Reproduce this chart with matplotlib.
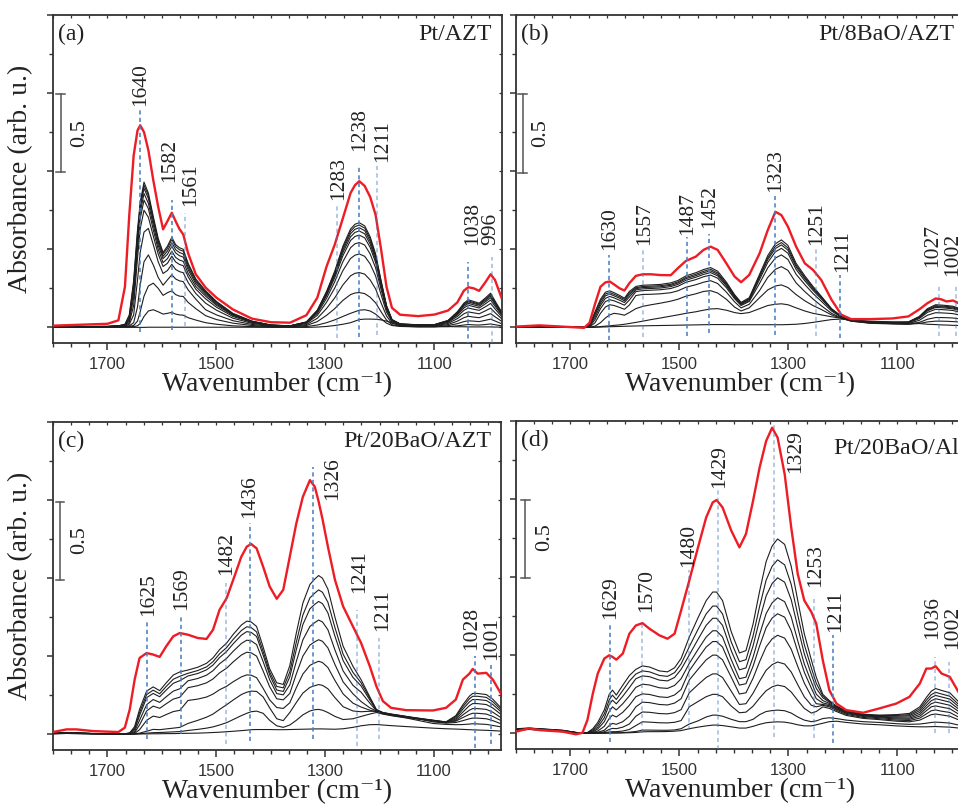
import matplotlib
matplotlib.use('Agg')
import matplotlib.pyplot as plt
from matplotlib.ticker import MultipleLocator, FixedLocator

plt.rcParams['font.family'] = ['Liberation Serif', 'DejaVu Serif']
plt.rcParams['mathtext.fontset'] = 'stix'

# ---------------- panel (a) Pt/AZT ----------------
wn_a = [1800, 1700, 1680, 1668, 1660, 1652, 1645, 1640, 1633, 1625, 1616, 1607, 1598, 1590, 1582,
        1575, 1568, 1561, 1552, 1538, 1520, 1500, 1470, 1435, 1400, 1365, 1335, 1315, 1298, 1283,
        1268, 1254, 1246, 1238, 1228, 1218, 1208, 1198, 1188, 1178, 1163, 1130, 1100, 1075, 1058,
        1046, 1038, 1028, 1018, 1007, 997, 989, 977]
red_a = [0.011, 0.023, 0.045, 0.26, 0.72, 1.10, 1.26, 1.294, 1.25, 1.134, 0.943, 0.772, 0.628, 0.68, 0.734,
         0.68, 0.63, 0.595, 0.474, 0.34, 0.255, 0.19, 0.115, 0.056, 0.033, 0.030, 0.078, 0.19, 0.39, 0.53,
         0.70, 0.86, 0.91, 0.936, 0.905, 0.835, 0.72, 0.50, 0.26, 0.125, 0.081, 0.072, 0.082, 0.108, 0.16,
         0.235, 0.257, 0.25, 0.234, 0.287, 0.34, 0.304, 0.19]
black_a = [
    [0.005, 0.006, 0.010,
     0.02, 0.08, 0.30, 0.62, 0.80, 0.93, 0.86, 0.71, 0.57, 0.48,
     0.52, 0.577, 0.53, 0.51, 0.50, 0.41, 0.31,
     0.235, 0.166, 0.09, 0.04, 0.015, 0.01,
     0.035, 0.11, 0.23, 0.36, 0.52, 0.63, 0.66, 0.67, 0.65, 0.58, 0.47, 0.30, 0.14, 0.05, 0.022,
     0.017, 0.018, 0.045, 0.10, 0.155, 0.177, 0.166, 0.155, 0.187, 0.219, 0.17, 0.10],
    [0.005, 0.006, 0.01,
     0.018, 0.07, 0.28, 0.60, 0.785, 0.91, 0.845, 0.695, 0.558, 0.47,
     0.507, 0.563, 0.517, 0.497, 0.488, 0.40, 0.302,
     0.228, 0.161, 0.087, 0.039, 0.015, 0.01,
     0.034, 0.108, 0.225, 0.352, 0.509, 0.616, 0.645, 0.655, 0.636, 0.567, 0.46, 0.293, 0.137, 0.049, 0.022,
     0.016, 0.017, 0.043, 0.096, 0.149, 0.17, 0.159, 0.149, 0.18, 0.21, 0.163, 0.096],
    [0.005, 0.006, 0.009,
     0.016, 0.06, 0.26, 0.575, 0.765, 0.89, 0.825, 0.68, 0.545, 0.455,
     0.489, 0.542, 0.498, 0.479, 0.47, 0.385, 0.291,
     0.221, 0.156, 0.085, 0.038, 0.014, 0.009,
     0.033, 0.105, 0.219, 0.343, 0.495, 0.60, 0.628, 0.638, 0.619, 0.552, 0.447, 0.286, 0.133, 0.048, 0.021,
     0.016, 0.017, 0.041, 0.092, 0.143, 0.163, 0.153, 0.143, 0.172, 0.201, 0.156, 0.092],
    [0.005, 0.006, 0.009,
     0.014, 0.05, 0.23, 0.54, 0.735, 0.857, 0.795, 0.655, 0.525, 0.44,
     0.468, 0.519, 0.477, 0.459, 0.45, 0.369, 0.279,
     0.212, 0.149, 0.081, 0.036, 0.014, 0.009,
     0.032, 0.101, 0.212, 0.332, 0.479, 0.58, 0.608, 0.617, 0.599, 0.534, 0.433, 0.276, 0.129, 0.046, 0.02,
     0.015, 0.016, 0.039, 0.087, 0.135, 0.154, 0.144, 0.135, 0.163, 0.19, 0.148, 0.087],
    [0.004, 0.005, 0.008,
     0.012, 0.04, 0.19, 0.50, 0.695, 0.815, 0.76, 0.625, 0.50, 0.415,
     0.44, 0.488, 0.448, 0.431, 0.423, 0.346, 0.262,
     0.20, 0.141, 0.077, 0.034, 0.013, 0.009,
     0.031, 0.097, 0.203, 0.318, 0.459, 0.556, 0.582, 0.591, 0.573, 0.512, 0.415, 0.265, 0.123, 0.044, 0.019,
     0.014, 0.014, 0.036, 0.08, 0.124, 0.142, 0.133, 0.124, 0.15, 0.175, 0.136, 0.08],
    [0.004, 0.005, 0.007,
     0.01, 0.03, 0.14, 0.44, 0.63, 0.75, 0.705, 0.585, 0.47, 0.39,
     0.41, 0.456, 0.419, 0.403, 0.395, 0.324, 0.245,
     0.183, 0.129, 0.07, 0.031, 0.012, 0.008,
     0.028, 0.089, 0.186, 0.292, 0.421, 0.51, 0.535, 0.543, 0.527, 0.47, 0.381, 0.243, 0.113, 0.041, 0.018,
     0.012, 0.013, 0.032, 0.07, 0.109, 0.124, 0.116, 0.109, 0.131, 0.153, 0.119, 0.07],
    [0.003, 0.004, 0.006,
     0.008, 0.02, 0.08, 0.30, 0.48, 0.61, 0.634, 0.53, 0.42, 0.345,
     0.364, 0.404, 0.371, 0.357, 0.35, 0.287, 0.217,
     0.155, 0.11, 0.059, 0.026, 0.01, 0.007,
     0.025, 0.077, 0.161, 0.252, 0.364, 0.441, 0.462, 0.47, 0.455, 0.406, 0.329, 0.21, 0.098, 0.035, 0.015,
     0.01, 0.01, 0.025, 0.056, 0.087, 0.099, 0.093, 0.087, 0.105, 0.123, 0.095, 0.056],
    [0.003, 0.004, 0.005,
     0.006, 0.01, 0.03, 0.13, 0.27, 0.42, 0.464, 0.40, 0.32, 0.27,
     0.304, 0.337, 0.31, 0.298, 0.293, 0.24, 0.181,
     0.113, 0.08, 0.043, 0.019, 0.007, 0.005,
     0.018, 0.058, 0.121, 0.189, 0.272, 0.33, 0.346, 0.351, 0.341, 0.304, 0.246, 0.157, 0.073, 0.026, 0.012,
     0.007, 0.007, 0.018, 0.04, 0.062, 0.071, 0.066, 0.062, 0.075, 0.088, 0.068, 0.04],
    [0.002, 0.003, 0.004,
     0.005, 0.007, 0.012, 0.04, 0.10, 0.20, 0.265, 0.283, 0.25, 0.205,
     0.222, 0.234, 0.21, 0.2, 0.198, 0.16, 0.12,
     0.075, 0.05, 0.027, 0.012, 0.005, 0.004,
     0.012, 0.037, 0.077, 0.12, 0.173, 0.21, 0.22, 0.223, 0.216, 0.193, 0.157, 0.10, 0.047, 0.017, 0.008,
     0.004, 0.004, 0.011, 0.024, 0.037, 0.042, 0.04, 0.037, 0.045, 0.053, 0.041, 0.024],
    [0.002, 0.002, 0.003,
     0.003, 0.004, 0.005, 0.01, 0.025, 0.07, 0.105, 0.113, 0.10, 0.085,
     0.09, 0.096, 0.085, 0.08, 0.078, 0.062, 0.047,
     0.03, 0.02, 0.01, 0.005, 0.003, 0.003,
     0.005, 0.015, 0.03, 0.048, 0.07, 0.09, 0.10, 0.11, 0.113, 0.105, 0.085, 0.055, 0.027, 0.012, 0.006,
     0.003, 0.003, 0.005, 0.01, 0.015, 0.018, 0.016, 0.015, 0.018, 0.022, 0.017, 0.01],
    [0.0, 0.0, 0.0,
     0.0, 0.0, 0.0, 0.0, 0.0, 0.0, 0.001, 0.001, 0.001, 0.001,
     0.001, 0.001, 0.001, 0.001, 0.001, 0.001, 0.001,
     0.001, 0.001, 0.001, 0.001, 0.0, 0.0,
     0.0, 0.002, 0.006, 0.012, 0.02, 0.03, 0.04, 0.05, 0.053, 0.053, 0.052, 0.048, 0.04, 0.03, 0.02,
     0.012, 0.007, 0.005, 0.004, 0.004, 0.003, 0.003, 0.003, 0.003, 0.003, 0.002, 0.002],
]

# ---------------- panel (b) Pt/8BaO/AZT ----------------
wn_b = [1800, 1757, 1700, 1675, 1665, 1655, 1645, 1636, 1628, 1620, 1610, 1601, 1592, 1580, 1567,
        1552, 1535, 1516, 1503, 1488, 1470, 1456, 1443, 1430, 1414, 1399, 1387, 1372, 1353, 1338,
        1324, 1313, 1301, 1286, 1270, 1255, 1240, 1221, 1203, 1185, 1150, 1110, 1080, 1060, 1045,
        1030, 1020, 1010, 998, 985, 977]
red_b = [0.005, 0.013, 0.002, -0.003, 0.03, 0.15, 0.26, 0.288, 0.294, 0.275, 0.25, 0.236, 0.283, 0.33, 0.34,
         0.34, 0.335, 0.334, 0.379, 0.426, 0.453, 0.496, 0.517, 0.496, 0.41, 0.326, 0.289, 0.336, 0.474, 0.623,
         0.74, 0.719, 0.645, 0.517, 0.41, 0.368, 0.304, 0.177, 0.081, 0.053, 0.053, 0.057, 0.07, 0.115, 0.155,
         0.185, 0.18, 0.166, 0.172, 0.15, 0.13]
black_b = [
    [0.003, 0.003, 0.002, 0.0, 0.017, 0.10, 0.18, 0.225, 0.234, 0.222, 0.205, 0.187, 0.23,
     0.262, 0.27, 0.272, 0.275, 0.285, 0.30, 0.33, 0.35, 0.37, 0.383, 0.36, 0.29, 0.21, 0.16, 0.19,
     0.34, 0.46, 0.535, 0.56, 0.525, 0.41, 0.33, 0.262, 0.20,
     0.12, 0.07, 0.045, 0.036,
     0.033, 0.035, 0.07, 0.12, 0.145, 0.143, 0.14, 0.135, 0.12, 0.11],
    [0.003, 0.003, 0.002, 0.0, 0.015, 0.09, 0.168, 0.214, 0.223, 0.212, 0.196, 0.179, 0.22,
     0.254, 0.262, 0.264, 0.267, 0.276, 0.291, 0.32, 0.34, 0.359, 0.372, 0.349, 0.281, 0.204, 0.155, 0.184,
     0.33, 0.446, 0.519, 0.543, 0.509, 0.398, 0.32, 0.254, 0.195,
     0.118, 0.07, 0.045, 0.035,
     0.032, 0.034, 0.067, 0.115, 0.139, 0.137, 0.134, 0.13, 0.115, 0.106],
    [0.003, 0.003, 0.002, 0.0, 0.013, 0.08, 0.155, 0.202, 0.213, 0.202, 0.187, 0.17, 0.209,
     0.248, 0.255, 0.257, 0.26, 0.269, 0.284, 0.312, 0.331, 0.35, 0.362, 0.34, 0.274, 0.198, 0.151, 0.179,
     0.321, 0.434, 0.505, 0.528, 0.495, 0.387, 0.311, 0.247, 0.19,
     0.116, 0.069, 0.045, 0.034,
     0.031, 0.033, 0.064, 0.11, 0.133, 0.132, 0.129, 0.124, 0.11, 0.101],
    [0.003, 0.003, 0.002, 0.0, 0.01, 0.065, 0.14, 0.186, 0.198, 0.189, 0.174, 0.159, 0.195,
     0.24, 0.247, 0.249, 0.252, 0.261, 0.275, 0.302, 0.321, 0.339, 0.351, 0.33, 0.266, 0.192, 0.146, 0.172,
     0.307, 0.416, 0.484, 0.506, 0.475, 0.371, 0.298, 0.237, 0.183,
     0.113, 0.068, 0.044, 0.033,
     0.03, 0.031, 0.062, 0.106, 0.128, 0.126, 0.123, 0.119, 0.106, 0.097],
    [0.003, 0.003, 0.002, 0.0, 0.006, 0.05, 0.12, 0.165, 0.177, 0.17, 0.156, 0.142, 0.175,
     0.229, 0.236, 0.238, 0.241, 0.249, 0.263, 0.289, 0.306, 0.324, 0.335, 0.315, 0.254, 0.184, 0.14, 0.166,
     0.282, 0.381, 0.444, 0.464, 0.435, 0.34, 0.274, 0.217, 0.168,
     0.105, 0.065, 0.043, 0.031,
     0.028, 0.029, 0.056, 0.096, 0.116, 0.114, 0.112, 0.108, 0.096, 0.088],
    [0.002, 0.002, 0.002, 0.0, 0.003, 0.03, 0.09, 0.13, 0.145, 0.14, 0.128, 0.116, 0.143,
     0.204, 0.211, 0.212, 0.215, 0.222, 0.234, 0.257, 0.273, 0.289, 0.299, 0.281, 0.226, 0.164, 0.125, 0.148,
     0.236, 0.32, 0.372, 0.389, 0.365, 0.285, 0.229, 0.182, 0.139,
     0.09, 0.06, 0.04, 0.028,
     0.025, 0.025, 0.045, 0.078, 0.094, 0.093, 0.091, 0.088, 0.078, 0.072],
    [0.002, 0.002, 0.002, 0.0, 0.001, 0.008, 0.03, 0.06, 0.08, 0.09, 0.085, 0.078, 0.095,
     0.12, 0.135, 0.145, 0.155, 0.168, 0.18, 0.20, 0.215, 0.23, 0.235, 0.22, 0.18, 0.13, 0.105, 0.125,
     0.19, 0.24, 0.265, 0.272, 0.255, 0.21, 0.17, 0.14, 0.115,
     0.08, 0.058, 0.04, 0.026,
     0.022, 0.02, 0.032, 0.052, 0.063, 0.063, 0.062, 0.06, 0.054, 0.05],
    [0.002, 0.002, 0.002, 0.0, 0.0, 0.002, 0.005, 0.008, 0.01, 0.013, 0.016, 0.02, 0.025,
     0.032, 0.04, 0.05, 0.06, 0.072, 0.08, 0.09, 0.10, 0.11, 0.118, 0.12, 0.11, 0.095, 0.088, 0.095,
     0.12, 0.14, 0.148, 0.151, 0.145, 0.125, 0.105, 0.09, 0.08,
     0.068, 0.058, 0.045, 0.03,
     0.024, 0.02, 0.025, 0.035, 0.04, 0.04, 0.039, 0.037, 0.034, 0.031],
    [0.002, 0.002, 0.001, 0.0, 0.0, 0.001, 0.002, 0.003, 0.004, 0.005, 0.006, 0.007, 0.008,
     0.009, 0.01, 0.011, 0.012, 0.013, 0.014, 0.015, 0.016, 0.017, 0.018, 0.018, 0.018, 0.017, 0.017, 0.017,
     0.017, 0.017, 0.017, 0.017, 0.018, 0.02, 0.025, 0.032, 0.04,
     0.05, 0.053, 0.048, 0.04,
     0.035, 0.03, 0.025, 0.02, 0.018, 0.016, 0.015, 0.013, 0.012, 0.011],
]

# ---------------- panel (c) Pt/20BaO/AZT ----------------
wn_c = [1800, 1775, 1757, 1726, 1680, 1668, 1659, 1650, 1641, 1628, 1616, 1604, 1592, 1579, 1567,
        1552, 1534, 1518, 1506, 1494, 1481, 1469, 1454, 1444, 1436, 1426, 1414, 1402, 1389, 1377,
        1365, 1353, 1341, 1328, 1319, 1312, 1305, 1295, 1282, 1267, 1249, 1234, 1218, 1206, 1194,
        1179, 1151, 1102, 1078, 1060, 1047, 1035, 1029, 1020, 1004, 992, 977]
red_c = [0.015, 0.032, 0.032, 0.021, 0.015, 0.043, 0.16, 0.351, 0.489, 0.521, 0.511, 0.496, 0.564, 0.628, 0.649,
         0.638, 0.617, 0.611, 0.67, 0.798, 0.872, 0.989, 1.138, 1.202, 1.219, 1.191, 1.074, 0.947, 0.868, 0.926,
         1.138, 1.351, 1.521, 1.628, 1.585, 1.49, 1.38, 1.202, 0.989, 0.819, 0.691, 0.585, 0.436, 0.309, 0.213,
         0.170, 0.155, 0.153, 0.170, 0.223, 0.351, 0.389, 0.419, 0.389, 0.394, 0.351, 0.26]
black_c = [
    [0.008, 0.012, 0.01, 0.006, 0.003,
     0.004, 0.01, 0.05, 0.16, 0.277, 0.304, 0.28, 0.33, 0.38, 0.40,
     0.412, 0.43, 0.455, 0.49, 0.543, 0.585, 0.64, 0.70, 0.725, 0.72, 0.691, 0.56, 0.42, 0.33, 0.32,
     0.44, 0.649, 0.84, 0.96, 0.995, 1.017, 1.0, 0.93, 0.75, 0.564, 0.436,
     0.35, 0.24, 0.16, 0.14, 0.13, 0.115,
     0.091, 0.08, 0.12, 0.19, 0.245, 0.262, 0.262, 0.255, 0.225, 0.17],
    [0.007, 0.011, 0.009, 0.005, 0.003,
     0.004, 0.008, 0.04, 0.14, 0.255, 0.283, 0.26, 0.307, 0.353, 0.372,
     0.391, 0.409, 0.432, 0.466, 0.516, 0.556, 0.608, 0.665, 0.689, 0.684, 0.656, 0.532, 0.399, 0.307, 0.298,
     0.40, 0.591, 0.764, 0.874, 0.905, 0.925, 0.91, 0.846, 0.683, 0.513, 0.397,
     0.33, 0.232, 0.157, 0.138, 0.128, 0.113,
     0.09, 0.079, 0.114, 0.177, 0.228, 0.244, 0.244, 0.237, 0.209, 0.158],
    [0.007, 0.01, 0.009, 0.005, 0.003,
     0.004, 0.007, 0.032, 0.12, 0.235, 0.262, 0.241, 0.284, 0.327, 0.344,
     0.374, 0.39, 0.413, 0.444, 0.492, 0.531, 0.58, 0.635, 0.658, 0.653, 0.627, 0.508, 0.381, 0.284, 0.275,
     0.368, 0.543, 0.703, 0.804, 0.833, 0.851, 0.837, 0.778, 0.628, 0.472, 0.365,
     0.31, 0.22, 0.155, 0.136, 0.126, 0.11,
     0.089, 0.078, 0.106, 0.162, 0.208, 0.223, 0.223, 0.217, 0.191, 0.145],
    [0.006, 0.01, 0.008, 0.005, 0.003,
     0.003, 0.005, 0.02, 0.09, 0.19, 0.223, 0.205, 0.241, 0.277, 0.292,
     0.343, 0.358, 0.379, 0.408, 0.452, 0.487, 0.532, 0.582, 0.603, 0.599, 0.575, 0.466, 0.35, 0.261, 0.253,
     0.317, 0.467, 0.605, 0.691, 0.716, 0.732, 0.72, 0.67, 0.54, 0.406, 0.314,
     0.27, 0.2, 0.152, 0.132, 0.122, 0.107,
     0.088, 0.077, 0.098, 0.143, 0.184, 0.197, 0.197, 0.191, 0.169, 0.128],
    [0.006, 0.009, 0.008, 0.005, 0.003,
     0.003, 0.004, 0.012, 0.06, 0.15, 0.181, 0.167, 0.196, 0.226, 0.238,
     0.299, 0.312, 0.33, 0.355, 0.394, 0.424, 0.464, 0.508, 0.526, 0.522, 0.501, 0.406, 0.305, 0.228, 0.221,
     0.262, 0.387, 0.501, 0.572, 0.593, 0.606, 0.596, 0.554, 0.447, 0.336, 0.26,
     0.21, 0.17, 0.15, 0.135, 0.125, 0.11,
     0.087, 0.076, 0.09, 0.125, 0.155, 0.165, 0.165, 0.16, 0.142, 0.107],
    [0.005, 0.008, 0.007, 0.004, 0.003,
     0.002, 0.003, 0.006, 0.03, 0.09, 0.117, 0.108, 0.127, 0.146, 0.154,
     0.217, 0.226, 0.239, 0.258, 0.286, 0.308, 0.337, 0.368, 0.381, 0.379, 0.363, 0.295, 0.221, 0.172, 0.166,
     0.202, 0.299, 0.386, 0.442, 0.458, 0.468, 0.46, 0.428, 0.345, 0.259, 0.2,
     0.175, 0.155, 0.145, 0.135, 0.125, 0.11,
     0.086, 0.075, 0.085, 0.108, 0.128, 0.135, 0.135, 0.13, 0.115, 0.088],
    [0.005, 0.007, 0.006, 0.004, 0.003,
     0.002, 0.002, 0.003, 0.008, 0.02, 0.032, 0.03, 0.035, 0.04, 0.045,
     0.07, 0.09, 0.11, 0.13, 0.16, 0.19, 0.22, 0.255, 0.27, 0.277, 0.275, 0.24, 0.17, 0.10, 0.088,
     0.14, 0.204, 0.264, 0.301, 0.312, 0.319, 0.314, 0.292, 0.235, 0.177, 0.15,
     0.145, 0.148, 0.148, 0.14, 0.13, 0.115,
     0.08, 0.072, 0.076, 0.088, 0.1, 0.104, 0.104, 0.1, 0.088, 0.068],
    [0.004, 0.006, 0.005, 0.004, 0.003,
     0.002, 0.002, 0.002, 0.004, 0.008, 0.011, 0.012, 0.014, 0.016, 0.018,
     0.025, 0.032, 0.04, 0.048, 0.06, 0.075, 0.095, 0.12, 0.135, 0.145, 0.149, 0.135, 0.09, 0.055, 0.045,
     0.06, 0.09, 0.125, 0.15, 0.158, 0.16, 0.155, 0.14, 0.115, 0.095, 0.1,
     0.115, 0.13, 0.14, 0.13, 0.12, 0.105,
     0.07, 0.064, 0.062, 0.063, 0.066, 0.068, 0.067, 0.064, 0.057, 0.048],
    [0.004, 0.006, 0.005, 0.003, 0.002,
     0.002, 0.002, 0.002, 0.003, 0.003, 0.004, 0.004, 0.005, 0.005, 0.006,
     0.007, 0.008, 0.01, 0.012, 0.014, 0.017, 0.02, 0.024, 0.027, 0.03, 0.031, 0.031, 0.031, 0.03, 0.03,
     0.031, 0.032, 0.033, 0.034, 0.035, 0.035, 0.035, 0.034, 0.033, 0.036, 0.045,
     0.055, 0.062, 0.063, 0.06, 0.056, 0.05,
     0.04, 0.036, 0.034, 0.032, 0.03, 0.029, 0.028, 0.026, 0.024, 0.021],
]

# ---------------- panel (d) Pt/20BaO/Al2O3 ----------------
wn_d = [1800, 1776, 1757, 1714, 1690, 1678, 1669, 1659, 1650, 1638, 1629, 1623, 1616, 1604, 1592,
        1580, 1568, 1555, 1537, 1522, 1509, 1497, 1482, 1466, 1451, 1439, 1432, 1421, 1405, 1390,
        1378, 1365, 1353, 1341, 1330, 1320, 1307, 1295, 1283, 1271, 1258, 1249, 1237, 1225, 1212,
        1194, 1163, 1133, 1102, 1078, 1059, 1047, 1038, 1030, 1019, 1004, 990, 977]
red_d = [0.011, 0.032, 0.021, 0.011, -0.006, 0.004, 0.085, 0.255, 0.383, 0.479, 0.5, 0.49, 0.472, 0.511, 0.638,
         0.691, 0.706, 0.670, 0.628, 0.606, 0.638, 0.787, 0.979, 1.191, 1.383, 1.479, 1.494, 1.447, 1.298, 1.191,
         1.277, 1.489, 1.702, 1.872, 1.957, 1.894, 1.66, 1.319, 1.021, 0.851, 0.777, 0.702, 0.468, 0.277, 0.191,
         0.149, 0.132, 0.16, 0.191, 0.234, 0.319, 0.415, 0.415, 0.430, 0.383, 0.362, 0.277, 0.2]
black_d = [
    [0.03, 0.034, 0.03, 0.02, 0.006, 0.002,
     0.005, 0.03, 0.07, 0.15, 0.25, 0.277, 0.245, 0.309, 0.37,
     0.41, 0.432, 0.425, 0.40, 0.394, 0.42, 0.48,
     0.617, 0.74, 0.85, 0.905, 0.905, 0.85, 0.65, 0.515, 0.53,
     0.70, 0.91, 1.10, 1.20, 1.245, 1.21, 1.07, 0.851, 0.638, 0.47, 0.36,
     0.25, 0.21, 0.175, 0.145, 0.122, 0.117,
     0.12, 0.128, 0.17, 0.23, 0.27, 0.287, 0.275, 0.26, 0.21, 0.16],
    [0.029, 0.033, 0.029, 0.019, 0.006, 0.002,
     0.004, 0.022, 0.055, 0.125, 0.215, 0.245, 0.217, 0.275, 0.335,
     0.38, 0.40, 0.394, 0.371, 0.365, 0.389, 0.445,
     0.555, 0.666, 0.765, 0.815, 0.815, 0.765, 0.585, 0.459, 0.472,
     0.624, 0.812, 0.981, 1.07, 1.111, 1.079, 0.954, 0.759, 0.569, 0.419, 0.321,
     0.24, 0.205, 0.172, 0.143, 0.12, 0.114,
     0.115, 0.12, 0.158, 0.212, 0.248, 0.263, 0.252, 0.238, 0.193, 0.147],
    [0.028, 0.032, 0.028, 0.018, 0.005, 0.002,
     0.003, 0.015, 0.04, 0.1, 0.185, 0.213, 0.189, 0.238, 0.293,
     0.35, 0.368, 0.363, 0.341, 0.336, 0.358, 0.41,
     0.502, 0.602, 0.692, 0.737, 0.737, 0.692, 0.529, 0.407, 0.419,
     0.56, 0.728, 0.88, 0.96, 0.996, 0.968, 0.856, 0.681, 0.51, 0.376, 0.288,
     0.228, 0.2, 0.17, 0.14, 0.118, 0.112,
     0.11, 0.113, 0.146, 0.195, 0.229, 0.243, 0.233, 0.22, 0.178, 0.136],
    [0.027, 0.031, 0.027, 0.017, 0.005, 0.002,
     0.002, 0.01, 0.028, 0.075, 0.14, 0.17, 0.15, 0.19, 0.24,
     0.295, 0.315, 0.31, 0.292, 0.288, 0.307, 0.35,
     0.448, 0.537, 0.617, 0.657, 0.657, 0.617, 0.472, 0.35, 0.36,
     0.488, 0.634, 0.767, 0.836, 0.868, 0.843, 0.746, 0.593, 0.445, 0.328, 0.251,
     0.21, 0.192, 0.165, 0.137, 0.115, 0.108,
     0.104, 0.105, 0.134, 0.178, 0.209, 0.222, 0.213, 0.2, 0.162, 0.124],
    [0.026, 0.03, 0.026, 0.016, 0.005, 0.002,
     0.002, 0.006, 0.015, 0.045, 0.095, 0.117, 0.105, 0.135, 0.18,
     0.235, 0.253, 0.249, 0.234, 0.23, 0.246, 0.281,
     0.401, 0.481, 0.553, 0.588, 0.588, 0.553, 0.423, 0.309, 0.318,
     0.43, 0.56, 0.677, 0.738, 0.766, 0.744, 0.658, 0.523, 0.392, 0.289, 0.222,
     0.195, 0.185, 0.16, 0.133, 0.112, 0.105,
     0.098, 0.097, 0.122, 0.162, 0.19, 0.2, 0.192, 0.18, 0.146, 0.112],
    [0.025, 0.029, 0.025, 0.015, 0.004, 0.002,
     0.002, 0.003, 0.007, 0.02, 0.05, 0.064, 0.058, 0.075, 0.11,
     0.17, 0.2, 0.197, 0.185, 0.182, 0.194, 0.222,
     0.342, 0.41, 0.471, 0.501, 0.501, 0.471, 0.36, 0.252, 0.26,
     0.353, 0.459, 0.554, 0.605, 0.628, 0.61, 0.539, 0.429, 0.322, 0.237, 0.19,
     0.185, 0.178, 0.155, 0.128, 0.108, 0.1,
     0.092, 0.09, 0.11, 0.145, 0.17, 0.176, 0.168, 0.158, 0.128, 0.098],
    [0.024, 0.028, 0.024, 0.014, 0.004, 0.002,
     0.002, 0.002, 0.004, 0.01, 0.025, 0.032, 0.03, 0.04, 0.06,
     0.11, 0.137, 0.135, 0.127, 0.125, 0.133, 0.152,
     0.26, 0.312, 0.358, 0.381, 0.381, 0.358, 0.27, 0.185, 0.19,
     0.257, 0.334, 0.404, 0.44, 0.457, 0.444, 0.393, 0.312, 0.234, 0.18, 0.17,
     0.18, 0.17, 0.148, 0.122, 0.102, 0.094,
     0.085, 0.082, 0.098, 0.125, 0.145, 0.15, 0.142, 0.134, 0.108, 0.083],
    [0.023, 0.027, 0.023, 0.013, 0.004, 0.002,
     0.002, 0.002, 0.003, 0.005, 0.009, 0.011, 0.011, 0.015, 0.025,
     0.05, 0.074, 0.072, 0.068, 0.067, 0.071, 0.082,
     0.17, 0.204, 0.235, 0.25, 0.25, 0.235, 0.175, 0.132, 0.136,
     0.174, 0.226, 0.273, 0.298, 0.309, 0.3, 0.265, 0.211, 0.16, 0.13, 0.14,
     0.17, 0.16, 0.14, 0.115, 0.096, 0.088,
     0.078, 0.074, 0.085, 0.105, 0.12, 0.124, 0.118, 0.11, 0.09, 0.07],
    [0.022, 0.026, 0.022, 0.012, 0.003, 0.001,
     0.001, 0.001, 0.002, 0.002, 0.003, 0.004, 0.004, 0.005, 0.008,
     0.012, 0.021, 0.021, 0.02, 0.02, 0.022, 0.03,
     0.06, 0.08, 0.105, 0.117, 0.117, 0.11, 0.09, 0.075, 0.075,
     0.09, 0.12, 0.14, 0.146, 0.149, 0.145, 0.13, 0.105, 0.085, 0.075, 0.08,
     0.095, 0.1, 0.095, 0.085, 0.075, 0.07,
     0.062, 0.058, 0.06, 0.065, 0.07, 0.072, 0.07, 0.066, 0.055, 0.045],
    [0.021, 0.025, 0.021, 0.011, 0.003, 0.001,
     0.001, 0.001, 0.001, 0.001, 0.002, 0.002, 0.002, 0.003, 0.004,
     0.006, 0.01, 0.011, 0.011, 0.012, 0.014, 0.018,
     0.03, 0.04, 0.048, 0.053, 0.053, 0.05, 0.042, 0.034, 0.034,
     0.045, 0.058, 0.068, 0.072, 0.074, 0.072, 0.065, 0.055, 0.048, 0.048, 0.055,
     0.065, 0.075, 0.078, 0.07, 0.06, 0.055,
     0.048, 0.044, 0.042, 0.042, 0.043, 0.044, 0.042, 0.04, 0.035, 0.03],
]

# peak labels: text, line x, line top, line bottom, text x, text bottom, strong line?
marks_a = [('1640', 1640, 1.41, -0.03, 1639, 1.42, True),
           ('1582', 1581, 0.815, -0.015, 1586, 0.93, True),
           ('1561', 1557, 0.73, 0.006, 1548, 0.78, False),
           ('1283', 1278, 0.775, -0.07, 1276, 0.815, False),
           ('1238', 1238, 1.04, -0.06, 1237, 1.13, True),
           ('1211', 1206, 1.05, -0.05, 1195, 1.06, False),
           ('1038', 1038, 0.42, -0.12, 1030, 0.53, True),
           ('996', 995, 0.45, -0.10, 996, 0.53, False)]
marks_b = [('1630', 1630, 0.464, -0.079, 1629, 0.496, True),
           ('1557', 1567, 0.504, -0.062, 1564, 0.528, False),
           ('1487', 1486, 0.581, -0.057, 1485, 0.591, True),
           ('1452', 1445, 0.60, -0.036, 1445, 0.634, True),
           ('1323', 1324, 0.84, -0.047, 1323, 0.868, True),
           ('1251', 1249, 0.504, -0.057, 1248, 0.528, False),
           ('1211', 1205, 0.336, -0.068, 1200, 0.357, True),
           ('1027', 1024, 0.272, -0.057, 1036, 0.389, False),
           ('1002', 992, 0.272, -0.057, 999, 0.326, False)]
marks_c = [('1625', 1628, 0.723, -0.032, 1625, 0.755, True),
           ('1569', 1565, 0.766, 0.0, 1564, 0.798, True),
           ('1482', 1483, 0.968, -0.064, 1481, 1.021, False),
           ('1436', 1439, 1.351, -0.043, 1439, 1.383, True),
           ('1326', 1322, 1.713, -0.032, 1286, 1.50, True),
           ('1241', 1241, 0.798, -0.074, 1237, 0.904, False),
           ('1211', 1201, 0.617, -0.032, 1194, 0.66, False),
           ('1028', 1024, 0.50, -0.085, 1030, 0.543, True),
           ('1001', 995, 0.447, -0.064, 995, 0.479, True)]
marks_d = [('1629', 1628, 0.702, -0.053, 1626, 0.734, True),
           ('1570', 1568, 0.713, 0.0, 1561, 0.777, False),
           ('1480', 1482, 1.043, 0.021, 1483, 1.064, False),
           ('1429', 1430, 1.564, -0.149, 1427, 1.574, False),
           ('1329', 1326, 1.979, -0.021, 1287, 1.67, False),
           ('1253', 1254, 0.862, -0.032, 1250, 0.936, False),
           ('1211', 1219, 0.628, -0.064, 1214, 0.649, True),
           ('1036', 1032, 0.489, 0.0, 1035, 0.606, False),
           ('1002', 1005, 0.457, 0.0, 998, 0.543, False)]

panels = [
    ('(a)', 'Pt/AZT', wn_a, red_a, black_a, marks_a, (1786, 0.996, 1.496, 1752, 1.247),
     [53 / 958, 1 - 343 / 805, 448.5 / 958, 328 / 805]),
    ('(b)', 'Pt/8BaO/AZT', wn_b, red_b, black_b, marks_b, (1788, 0.991, 1.496, 1754, 1.247),
     [516 / 958, 1 - 343 / 805, 448.5 / 958, 328 / 805]),
    ('(c)', 'Pt/20BaO/AZT', wn_c, red_c, black_c, marks_c, (1787, 0.989, 1.489, 1752, 1.245),
     [53 / 958, 1 - 750 / 805, 448 / 958, 328 / 805]),
    ('(d)', 'Pt/20BaO/Al$_2$O$_3$', wn_d, red_d, black_d, marks_d, (1783, 0.996, 1.496, 1748, 1.255),
     [516 / 958, 1 - 749 / 805, 448.5 / 958, 328 / 805]),
]

fig = plt.figure(figsize=(9.58, 8.05), dpi=100)
edge = '#333333'

for i, (letter, name, wn, red, black, marks, bar, box) in enumerate(panels):
    ax = fig.add_axes(box)
    for row in black:
        ax.plot(wn, row, color='#1e1e1e', lw=0.8, zorder=2)
    ax.plot(wn, red, color='#ee1c24', lw=1.7, zorder=3)

    for text, lx, ltop, lbot, tx, ty, strong in marks:
        ax.plot([lx, lx], [lbot, ltop], color='#4a7fc1', lw=1.2,
                ls=(0, (2.5, 2)), alpha=0.95 if strong else 0.5, zorder=4)
        ax.text(tx, ty, text, rotation=90, ha='center', va='bottom',
                fontsize=15.5, color='#222222')

    bx, by0, by1, btx, bty = bar
    ax.plot([bx, bx], [by0, by1], color='#555555', lw=1.1)
    ax.plot([bx - 8, bx + 8], [by0, by0], color='#555555', lw=1.1)
    ax.plot([bx - 8, bx + 8], [by1, by1], color='#555555', lw=1.1)
    ax.text(btx, bty, '0.5', rotation=90, ha='center', va='center', fontsize=16, color='#222222')

    ax.set_xlim(1800, 977)
    ax.set_ylim(-0.1, 2.0)

    ax.xaxis.set_major_locator(FixedLocator([1700, 1500, 1300, 1100]))
    ax.xaxis.set_minor_locator(MultipleLocator(200 / 6))
    ax.yaxis.set_major_locator(MultipleLocator(0.5))
    ax.yaxis.set_minor_locator(MultipleLocator(0.25))
    ax.set_yticklabels([])
    ax.tick_params(axis='x', which='major', direction='out', length=5, width=1.1, pad=5,
                   labelsize=12, colors=edge)
    ax.tick_params(axis='x', which='minor', direction='out', length=3.2, width=1.0, colors=edge)
    ax.tick_params(axis='y', which='major', direction='out', length=4.5, width=1.1, colors=edge)
    ax.tick_params(axis='y', which='minor', direction='out', length=2.8, width=1.0, colors=edge)
    for lab in ax.get_xticklabels():
        lab.set_family(['Liberation Sans', 'DejaVu Sans'])

    top = ax.secondary_xaxis('top')
    top.xaxis.set_major_locator(MultipleLocator(200 / 6))
    top.tick_params(direction='in', length=2.5, width=0.9, labeltop=False, colors=edge)
    top.spines['top'].set_visible(False)
    right = ax.secondary_yaxis('right')
    right.yaxis.set_major_locator(MultipleLocator(0.25))
    right.tick_params(direction='in', length=2.5, width=0.9, labelright=False, colors=edge)
    right.spines['right'].set_visible(False)

    for s in ax.spines.values():
        s.set_color(edge)
        s.set_linewidth(1.3)

    ax.set_xlabel('Wavenumber (cm\u207b\u00b9)', fontsize=20, color='#222222')
    ax.xaxis.set_label_coords(0.5, -0.09)
    if i % 2 == 0:
        ax.set_ylabel('Absorbance (arb. u.)', fontsize=20, color='#222222')
        ax.yaxis.set_label_coords(-0.045, 0.5)

    ax.text(0.012, 0.972, letter, transform=ax.transAxes, ha='left', va='top',
            fontsize=17, color='#222222')
    if i == 3:
        ax.text(0.707, 0.952, name, transform=ax.transAxes, ha='left', va='top',
                fontsize=17.3, color='#222222')
    else:
        ax.text(0.978, 0.972, name, transform=ax.transAxes, ha='right', va='top',
                fontsize=17.3, color='#222222')

fig.savefig('out.png', dpi=100)
